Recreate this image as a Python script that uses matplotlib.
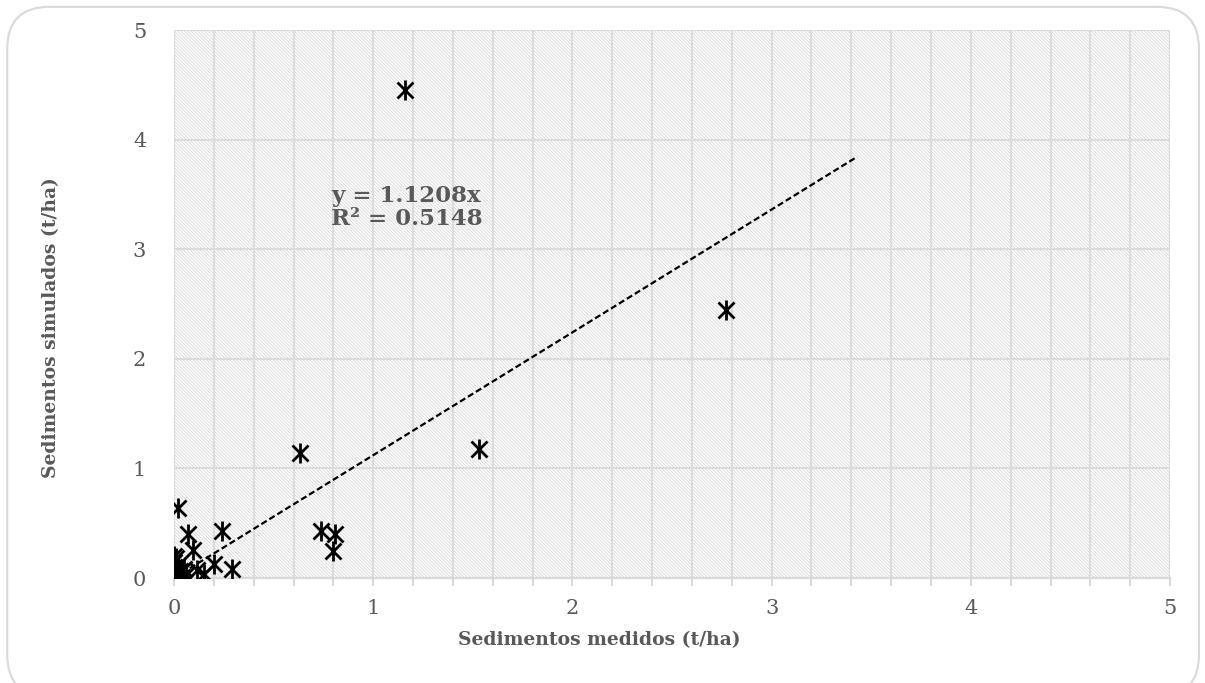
import matplotlib
matplotlib.use('Agg')
import numpy as np
import matplotlib.pyplot as plt
from matplotlib.patches import Rectangle, FancyBboxPatch

# Measured vs simulated sediment (t/ha)
medidos = [1.16, 2.77, 1.53, 0.63, 0.02, 0.24, 0.07, 0.095, 0.74, 0.81, 0.80,
           0.29, 0.20, 0.15, 0.115, 0.0, 0.0, 0.0, 0.01, 0.0, 0.01, 0.02,
           0.03, 0.04, 0.05, 0.06, 0.0, 0.01, 0.02, 0.0]
simulados = [4.45, 2.45, 1.18, 1.14, 0.64, 0.43, 0.40, 0.26, 0.43, 0.40, 0.25,
             0.08, 0.13, 0.04, 0.07, 0.0, 0.05, 0.10, 0.18, 0.15, 0.02, 0.12,
             0.06, 0.01, 0.08, 0.03, 0.20, 0.0, 0.04, 0.09]
slope = 1.1208
r2 = 0.5148
trend_x = [0.0, 3.43]
ticks = [0, 1, 2, 3, 4, 5]

plt.rcParams['hatch.linewidth'] = 0.6
grey = '#595959'
fig = plt.figure(figsize=(12.05, 6.83), dpi=100)
fig.patches.append(FancyBboxPatch((0.006, -0.02), 0.989, 1.01, boxstyle='round,pad=0,rounding_size=0.035',
                                  transform=fig.transFigure, facecolor='none',
                                  edgecolor='#d9d9d9', linewidth=1.5, mutation_aspect=1.76))

ax = fig.add_axes([0.1444, 0.1537, 0.8266, 0.8023])
ax.set_xlim(0, 5)
ax.set_ylim(0, 5)

# hatched plot area
ax.add_patch(Rectangle((0, 0), 1, 1, transform=ax.transAxes, facecolor='white',
                       edgecolor='#d8d8d8', hatch='\\' * 10, linewidth=0, zorder=0))

ax.set_xticks(ticks)
ax.set_yticks(ticks)
ax.set_xticks(np.arange(0, 5.01, 0.2), minor=True)
ax.grid(True, which='major', axis='y', color='#dcdcdc', linewidth=1.6, zorder=1)
ax.grid(True, which='both', axis='x', color='#dcdcdc', linewidth=1.6, zorder=1)
ax.set_axisbelow(True)

for s in ['top', 'right', 'left']:
    ax.spines[s].set_visible(False)
ax.spines['bottom'].set_color('#d9d9d9')
ax.spines['bottom'].set_linewidth(1.6)
ax.tick_params(axis='x', which='both', length=6, width=1.5, color='#d9d9d9', pad=9)
ax.tick_params(axis='y', length=0, pad=20)
for lab in ax.get_xticklabels() + ax.get_yticklabels():
    lab.set_fontfamily('DejaVu Serif')
    lab.set_fontsize(15)
    lab.set_color(grey)

ax.plot(trend_x, [slope * v for v in trend_x], color='black', linestyle='--',
        linewidth=1.6, dashes=(2.8, 1.4), zorder=3)
ax.plot(medidos, simulados, linestyle='none', marker='x', markersize=12,
        markeredgewidth=2, color='black', zorder=4)
ax.plot(medidos, simulados, linestyle='none', marker='|', markersize=15,
        markeredgewidth=2, color='black', zorder=4)

ax.text(0.79, 3.38, f'y = {slope}x\nR² = {r2}', fontfamily='DejaVu Serif',
        fontweight='bold', fontsize=16.5, color=grey, linespacing=1.05,
        va='center', ha='left', zorder=5)

fig.text(0.497, 0.063, 'Sedimentos medidos (t/ha)', fontfamily='DejaVu Serif',
         fontweight='bold', fontsize=13.5, color=grey, ha='center', va='center')
fig.text(0.042, 0.52, 'Sedimentos simulados (t/ha)', fontfamily='DejaVu Serif',
         fontweight='bold', fontsize=13.5, color=grey, ha='center', va='center',
         rotation=90)

fig.savefig('out.png', dpi=100)
